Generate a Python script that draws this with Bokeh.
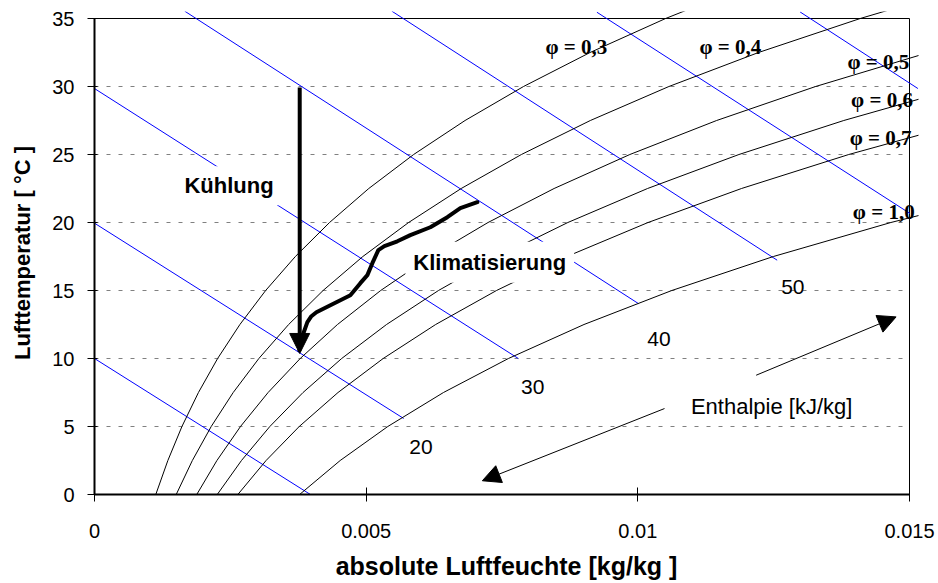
from bokeh.plotting import figure
from bokeh.models import Label, Arrow, NormalHead, FixedTicker, CustomJSTickFormatter
from bokeh.embed import file_html
from bokeh.resources import INLINE

# ---------------- data ----------------
# temperature steps [°C] for the curves of constant relative humidity
T_steps = [0, 2.5, 5, 7.5, 10, 12.5, 15, 17.5, 20, 22.5, 25, 27.5, 30, 32.5, 35, 37.5]

# absolute humidity [kg/kg] of each phi curve at T_steps
x_phi_03 = [0.001128, 0.001350, 0.001609, 0.001913, 0.002266, 0.002676, 0.003150, 0.003697,
            0.004326, 0.005048, 0.005874, 0.006820, 0.007896, 0.009121, 0.010511, 0.012080]
x_phi_04 = [0.001504, 0.001801, 0.002148, 0.002553, 0.003025, 0.003573, 0.004207, 0.004939,
            0.005781, 0.006749, 0.007857, 0.009126, 0.010572, 0.012221, 0.014093, 0.016210]
x_phi_05 = [0.001882, 0.002253, 0.002687, 0.003195, 0.003786, 0.004472, 0.005267, 0.006186,
            0.007243, 0.008459, 0.009853, 0.011450, 0.013272, 0.015351]
x_phi_06 = [0.002259, 0.002705, 0.003227, 0.003838, 0.004549, 0.005375, 0.006331, 0.007437,
            0.008712, 0.010179, 0.011861, 0.013790, 0.015995]
x_phi_07 = [0.002638, 0.003158, 0.003768, 0.004482, 0.005313, 0.006279, 0.007399, 0.008694,
            0.010188, 0.011908, 0.013882, 0.016149]
x_phi_10 = [0.003775, 0.004522, 0.005398, 0.006423, 0.007618, 0.009009, 0.010625, 0.012495,
            0.014657, 0.017152]
phi_labels = ["φ = 0,3", "φ = 0,4", "φ = 0,5", "φ = 0,6", "φ = 0,7", "φ = 1,0"]

# lines of constant enthalpy [kJ/kg]: start and end points
h_values = [10, 20, 30, 40, 50, 60, 70]
h_x_start = [0.0, 0.0, 0.0, 0.00166, 0.005472, 0.009247, 0.012987]
h_T_start = [10.0, 19.95, 29.85, 35.54, 35.54, 35.46, 35.48]
h_x_end = [0.003974, 0.00569, 0.0078, 0.01001, 0.012564, 0.01501, 0.015155]
h_T_end = [0.0, 5.59, 10.0, 14.04, 17.23, 20.66, 29.85]
h_labels = ["20", "30", "40", "50"]

# cooling (Kühlung): vertical arrow
kuehl_x = [0.003777, 0.003777]
kuehl_T = [29.93, 10.37]

# air-conditioning path (Klimatisierung)
klima_x = [0.003771, 0.003845, 0.003918, 0.003992, 0.004084, 0.004341, 0.004709, 0.004893,
           0.005022, 0.005114, 0.005224, 0.005335, 0.005574, 0.005813, 0.006181, 0.006494,
           0.006733, 0.007046]
klima_T = [10.61, 11.86, 12.67, 13.11, 13.40, 13.92, 14.65, 15.54, 16.13, 17.01, 17.97, 18.26,
           18.62, 19.07, 19.65, 20.39, 21.05, 21.49]

# enthalpy direction arrows (start -> tip)
enth_up_x = [0.012178, 0.014753]
enth_up_T = [8.77, 13.06]
enth_dn_x = [0.010491, 0.007138]
enth_dn_T = [6.32, 1.01]

x_ticks = [0, 0.005, 0.01, 0.015]
y_ticks = [0, 5, 10, 15, 20, 25, 30, 35]

# ---------------- label placement (annotation layout) ----------------
phi_label_pos = [(0.008300, 32.91), (0.011135, 32.91), (0.013857, 31.81),
                 (0.013925, 28.99), (0.013900, 26.18), (0.013957, 20.78)]
h_label_pos = [(0.005795, 3.50), (0.007849, 7.87), (0.010173, 11.47), (0.012638, 15.26)]

SANS = "Liberation Sans"
SERIF = "Liberation Serif"

# the drawing area reaches a few pixels beyond the axes box (curves overshoot it as in the original)
X_END = x_ticks[-1] * (1 + 9 / 815)
Y_END = y_ticks[-1] + 7 / 13.6

p = figure(width=936, height=583, x_range=(0, X_END), y_range=(0, Y_END),
           output_backend="svg", toolbar_location=None,
           min_border_left=94, min_border_right=18, min_border_top=11, min_border_bottom=89)
p.background_fill_color = "white"
p.border_fill_color = "white"
p.outline_line_color = None

# grid (dotted, limited to the axes box)
p.xgrid.visible = False
p.ygrid.visible = False
p.segment(x0=[x_ticks[0]] * len(y_ticks), x1=[x_ticks[-1]] * len(y_ticks), y0=y_ticks, y1=y_ticks,
          line_color="#808080", line_dash="4 8", line_width=1)
# top and right border of the axes box
p.line([x_ticks[0], x_ticks[-1]], [y_ticks[-1], y_ticks[-1]], line_color="black", line_width=1)
p.line([x_ticks[-1], x_ticks[-1]], [y_ticks[0], y_ticks[-1]], line_color="black", line_width=1)

# axes
p.xaxis.ticker = FixedTicker(ticks=x_ticks)
p.xaxis.formatter = CustomJSTickFormatter(code="return String(tick);")
p.yaxis.ticker = FixedTicker(ticks=y_ticks)
p.xaxis.bounds = (x_ticks[0], x_ticks[-1])
p.yaxis.bounds = (y_ticks[0], y_ticks[-1])
p.xaxis.axis_label = "absolute Luftfeuchte [kg/kg ]"
p.yaxis.axis_label = "Lufttemperatur [ °C ]"
for ax in (p.xaxis[0], p.yaxis[0]):
    ax.axis_line_color = "black"
    ax.axis_line_width = 2
    ax.major_tick_line_color = "black"
    ax.major_tick_out = 7
    ax.minor_tick_line_color = None
    ax.major_label_text_font = SANS
    ax.major_label_text_font_size = "20px"
    ax.major_label_text_color = "black"
    ax.axis_label_text_font = SANS
    ax.axis_label_text_font_style = "bold"
    ax.axis_label_text_color = "black"
p.xaxis.major_tick_in = 7
p.yaxis.major_tick_in = 3
p.xaxis.major_label_standoff = 22
p.yaxis.major_label_standoff = 13
p.xaxis.axis_label_text_font_size = "25px"
p.yaxis.axis_label_text_font_size = "22px"
p.xaxis.axis_label_standoff = 11
p.yaxis.axis_label_standoff = 14

# enthalpy lines
for xs, ts, xe, te in zip(h_x_start, h_T_start, h_x_end, h_T_end):
    p.line([xs, xe], [ts, te], line_color="#0000FF", line_width=1)

# phi curves
for xs in (x_phi_03, x_phi_04, x_phi_05, x_phi_06, x_phi_07, x_phi_10):
    p.line(xs, T_steps[:len(xs)], line_color="black", line_width=1)

# Klimatisierung path
p.line(klima_x, klima_T, line_color="black", line_width=4, line_join="round", line_cap="round")

# arrows
p.add_layout(Arrow(x_start=kuehl_x[0], y_start=kuehl_T[0], x_end=kuehl_x[1], y_end=kuehl_T[1],
                   line_color="black", line_width=4,
                   end=NormalHead(size=20, fill_color="black", line_color="black", line_width=1)))
p.add_layout(Arrow(x_start=enth_up_x[0], y_start=enth_up_T[0], x_end=enth_up_x[1], y_end=enth_up_T[1],
                   line_color="black", line_width=1,
                   end=NormalHead(size=18, fill_color="black", line_color="black", line_width=1)))
p.add_layout(Arrow(x_start=enth_dn_x[0], y_start=enth_dn_T[0], x_end=enth_dn_x[1], y_end=enth_dn_T[1],
                   line_color="black", line_width=1,
                   end=NormalHead(size=18, fill_color="black", line_color="black", line_width=1)))

# labels (boxed labels are anchored at the corner of their white box)
p.add_layout(Label(x=0.001527, y=22.70, text="Kühlung", text_font=SANS, text_font_style="bold",
                   text_font_size="22px", text_baseline="alphabetic", text_color="black",
                   background_fill_color="white", padding=7))
p.add_layout(Label(x=0.005721, y=17.08, text="Klimatisierung", text_font=SANS, text_font_style="bold",
                   text_font_size="22px", text_baseline="alphabetic", text_color="black",
                   background_fill_color="white", padding=8))
p.add_layout(Label(x=0.010977, y=6.44, text="Enthalpie [kJ/kg]", text_font=SANS,
                   text_font_size="22px", text_baseline="alphabetic", text_color="black"))
for txt, (lx, ly) in zip(h_labels, h_label_pos):
    p.add_layout(Label(x=lx, y=ly, text=txt, text_font=SANS, text_font_size="21px",
                       text_baseline="alphabetic", text_color="black"))
for txt, (lx, ly) in zip(phi_labels, phi_label_pos):
    p.add_layout(Label(x=lx, y=ly, text=txt, text_font=SERIF, text_font_style="bold",
                       text_font_size="21px", text_baseline="alphabetic", text_color="black"))

open("out.html", "w").write(file_html(p, INLINE))
